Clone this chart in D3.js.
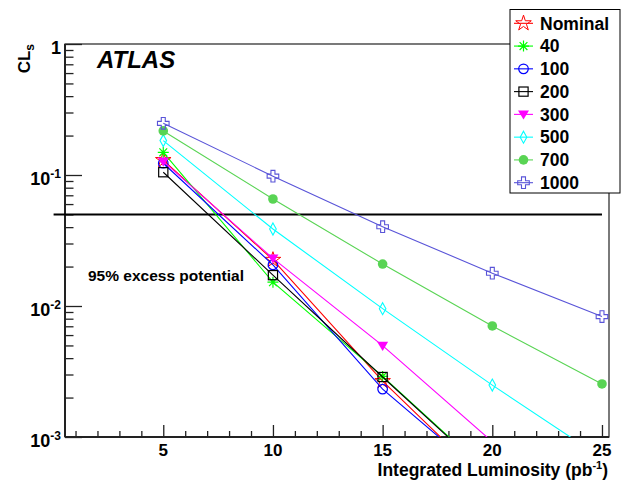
<!DOCTYPE html>
<html><head><meta charset="utf-8">
<script src="https://cdn.jsdelivr.net/npm/d3@7"></script>
<style>
body{margin:0;background:#fff}
text{font-family:"Liberation Sans",Arial,Helvetica,sans-serif;font-weight:bold;fill:#000}
</style>
</head><body>
<svg id="c" width="621" height="484"></svg>
<script>
// ---------------- data ----------------
const lumi = [5, 10, 15, 20, 25];
const seriesNames = ["Nominal", "40", "100", "200", "300", "500", "700", "1000"];
const valsNominal = [0.130, 0.0225, 0.00267, 0.000415, null];
const vals40      = [0.149, 0.0152, 0.00290, 0.00050, null];
const vals100     = [0.123, 0.0206, 0.00232, 0.00045, null];
const vals200     = [0.105, 0.0172, 0.00287, 0.00049, null];
const vals300     = [0.127, 0.0231, 0.00498, 0.00092, null];
const vals500     = [0.183, 0.0387, 0.00954, 0.00249, 0.00069];
const vals700     = [0.217, 0.0656, 0.0209, 0.00704, 0.00254];
const vals1000    = [0.248, 0.098, 0.0403, 0.0178, 0.0083];
const xMajorTicks = [5, 10, 15, 20, 25];
const xMinorTicks = d3.range(1, 26);
const yDecades = [1, 0.1, 0.01, 0.001];
const yTickLabels = [["1", ""], ["10", "-1"], ["10", "-2"], ["10", "-3"]];
const xDomain = [0.52, 25.32];
const yDomain = [0.001, 1];
const threshold = 0.05;
const thresholdRange = [0, 25];
const xTitle = ["Integrated Luminosity (pb", "-1", ")"];
const yTitle = ["CL", "s"];
const atlasLabel = "ATLAS";
const noteLabel = "95% excess potential";

// ---------------- styles ----------------
const styles = {
  "Nominal": {color: "#ff0000", marker: "star"},
  "40":      {color: "#00ff00", marker: "asterisk"},
  "100":     {color: "#0000ff", marker: "circleOpen"},
  "200":     {color: "#000000", marker: "squareOpen"},
  "300":     {color: "#ff00ff", marker: "triDown"},
  "500":     {color: "#00ffff", marker: "diamondOpen"},
  "700":     {color: "#59d454", marker: "circleFilled"},
  "1000":    {color: "#5954d8", marker: "crossOpen"}
};
const seriesVals = [valsNominal, vals40, vals100, vals200, vals300, vals500, vals700, vals1000];

const plot = {left: 65, right: 609, top: 44, bottom: 437};
const svg = d3.select("#c");

const x = d3.scaleLinear().domain(xDomain).range([plot.left, plot.right]);
const y = d3.scaleLog().domain(yDomain).range([plot.bottom, plot.top]);

svg.append("defs").append("clipPath").attr("id", "clip")
  .append("rect").attr("x", plot.left).attr("y", plot.top)
  .attr("width", plot.right - plot.left).attr("height", plot.bottom - plot.top);

// frame
svg.append("rect").attr("x", plot.left).attr("y", plot.top)
  .attr("width", plot.right - plot.left).attr("height", plot.bottom - plot.top)
  .attr("fill", "none").attr("stroke", "#222").attr("stroke-width", 1.2);

// x axis ticks
const gx = svg.append("g").attr("transform", `translate(0,${plot.bottom})`);
gx.call(d3.axisBottom(x).tickValues(xMinorTicks.filter(v => !xMajorTicks.includes(v))).tickSize(-6).tickFormat(""));
gx.call(g => g.select(".domain").remove());
const gx2 = svg.append("g").attr("transform", `translate(0,${plot.bottom})`);
gx2.call(d3.axisBottom(x).tickValues(xMajorTicks).tickSize(-12).tickFormat(""));
gx2.call(g => g.select(".domain").remove());
svg.selectAll(".tick line").attr("stroke", "#222").attr("stroke-width", 1.3);

svg.append("line").attr("x1", plot.left).attr("x2", plot.right)
  .attr("y1", plot.bottom).attr("y2", plot.bottom).attr("stroke", "#222").attr("stroke-width", 2);

// x tick labels
svg.append("g").selectAll("text").data(xMajorTicks).join("text")
  .attr("x", d => x(d)).attr("y", 456).attr("text-anchor", "middle")
  .style("font-size", "17px").text(d => d);

// y axis ticks
const yMinor = [];
for (let k = 0; k < yDecades.length - 1; k++) {
  const base = yDecades[k + 1];
  for (let m = 2; m <= 9; m++) yMinor.push(base * m);
}
const gy = svg.append("g").attr("transform", `translate(${plot.left},0)`);
gy.call(d3.axisLeft(y).tickValues(yMinor).tickSize(-8.5).tickFormat(""));
gy.call(g => g.select(".domain").remove());
const gy2 = svg.append("g").attr("transform", `translate(${plot.left},0)`);
gy2.call(d3.axisLeft(y).tickValues(yDecades).tickSize(-17).tickFormat(""));
gy2.call(g => g.select(".domain").remove());
gy.selectAll(".tick line").attr("stroke", "#222").attr("stroke-width", 1.3);
gy2.selectAll(".tick line").attr("stroke", "#222").attr("stroke-width", 1.3);
svg.append("line").attr("x1", plot.left).attr("x2", plot.left)
  .attr("y1", plot.top).attr("y2", plot.bottom).attr("stroke", "#222").attr("stroke-width", 2);

// y tick labels
const yl = svg.append("g").selectAll("text").data(yDecades).join("text")
  .attr("x", 61).attr("y", d => y(d) + 10).attr("text-anchor", "end")
  .style("font-size", "18px");
yl.each(function(d, i) {
  const t = d3.select(this);
  t.append("tspan").text(yTickLabels[i][0]);
  if (yTickLabels[i][1]) t.append("tspan").attr("dy", -7).style("font-size", "12px").text(yTickLabels[i][1]);
});

// threshold line
svg.append("line").attr("x1", x(thresholdRange[0])).attr("x2", x(thresholdRange[1]))
  .attr("y1", y(threshold)).attr("y2", y(threshold)).attr("stroke", "#000").attr("stroke-width", 2);

// markers
function drawMarker(g, type, color, cx, cy, s = 1) {
  let el;
  switch (type) {
    case "star":
      el = g.append("path").attr("d", d3.symbol(d3.symbolStar, 75 * s * s)())
        .attr("fill", "none").attr("stroke", color).attr("stroke-width", 1);
      break;
    case "asterisk": {
      const r = 5.5 * s, q = r * 0.7071;
      el = g.append("path").attr("d", `M${-r},0H${r}M0,${-r}V${r}M${-q},${-q}L${q},${q}M${-q},${q}L${q},${-q}`)
        .attr("fill", "none").attr("stroke", color).attr("stroke-width", 1.2);
      break; }
    case "circleOpen":
      el = g.append("circle").attr("r", 4.8 * s).attr("fill", "none").attr("stroke", color).attr("stroke-width", 1.2);
      break;
    case "squareOpen": {
      const h = 4.6 * s;
      el = g.append("rect").attr("x", -h).attr("y", -h).attr("width", 2 * h).attr("height", 2 * h)
        .attr("fill", "none").attr("stroke", color).attr("stroke-width", 1.2);
      break; }
    case "triDown": {
      const h = 5.5 * s;
      el = g.append("path").attr("d", `M${-h},${-h * 0.7}L${h},${-h * 0.7}L0,${h * 0.95}Z`).attr("fill", color);
      break; }
    case "diamondOpen": {
      const w = 3.3 * s, h = 6 * s;
      el = g.append("path").attr("d", `M0,${-h}L${w},0L0,${h}L${-w},0Z`)
        .attr("fill", "none").attr("stroke", color).attr("stroke-width", 1.1);
      break; }
    case "circleFilled":
      el = g.append("circle").attr("r", 4.8 * s).attr("fill", color);
      break;
    case "crossOpen": {
      const sz = 5.8 * s, a = 2 * s;
      el = g.append("path").attr("d",
        `M${-a},${-sz}H${a}V${-a}H${sz}V${a}H${a}V${sz}H${-a}V${a}H${-sz}V${-a}H${-a}Z`)
        .attr("fill", "none").attr("stroke", color).attr("stroke-width", 1.1);
      break; }
  }
  el.attr("transform", `translate(${cx},${cy})`);
}

const data = seriesNames.map((n, i) => ({
  name: n,
  pts: lumi.map((l, j) => ({x: l, v: seriesVals[i][j]})).filter(p => p.v != null)
}));

const pg = svg.append("g").attr("clip-path", "url(#clip)");
const line = d3.line().x(p => x(p.x)).y(p => y(p.v));
data.forEach(s => {
  const st = styles[s.name];
  const g = pg.append("g");
  g.append("path").datum(s.pts).attr("d", line).attr("fill", "none")
    .attr("stroke", st.color).attr("stroke-width", 1.1);
  s.pts.forEach(p => {
    if (p.v >= yDomain[0]) drawMarker(g, st.marker, st.color, x(p.x), y(p.v));
  });
});

// texts
svg.append("text").attr("x", 97).attr("y", 68).style("font-size", "24px").style("font-style", "italic").text(atlasLabel);
svg.append("text").attr("x", 88).attr("y", 281).style("font-size", "15.5px").text(noteLabel);

const xt = svg.append("text").attr("x", 608).attr("y", 476).attr("text-anchor", "end").style("font-size", "17.5px");
xt.append("tspan").text(xTitle[0]);
xt.append("tspan").attr("dy", -7).style("font-size", "11px").text(xTitle[1]);
xt.append("tspan").attr("dy", 7).text(xTitle[2]);

const yt = svg.append("text").attr("transform", "translate(30,44) rotate(-90)").attr("text-anchor", "end").style("font-size", "17px");
yt.append("tspan").text(yTitle[0]);
yt.append("tspan").attr("dy", 4).style("font-size", "12px").text(yTitle[1]);

// legend
const lg = svg.append("g");
lg.append("rect").attr("x", 510).attr("y", 9.5).attr("width", 110).attr("height", 183.5)
  .attr("fill", "#fff").attr("stroke", "#000").attr("stroke-width", 1);
seriesNames.forEach((n, i) => {
  const cy = 23.3 + i * 22.77;
  const st = styles[n];
  lg.append("line").attr("x1", 514).attr("x2", 533).attr("y1", cy).attr("y2", cy)
    .attr("stroke", st.color).attr("stroke-width", 1.1);
  drawMarker(lg, st.marker, st.color, 523.5, cy);
  lg.append("text").attr("x", 540).attr("y", cy + 6.3).style("font-size", "17.5px").text(n);
});
</script>
</body></html>
